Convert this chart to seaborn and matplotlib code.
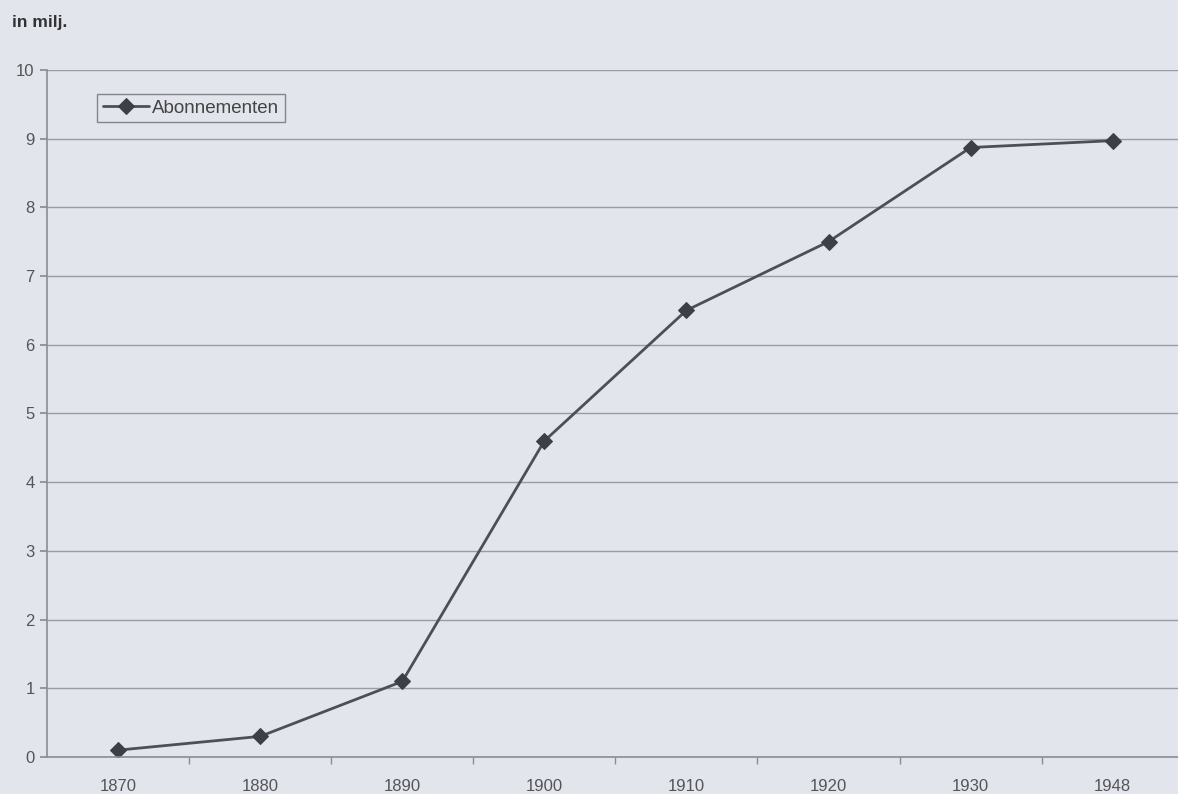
import pandas as pd
import matplotlib.pyplot as plt
import seaborn as sns
import numpy as np

# Data: telephone subscriptions (millions)
jaren = ['1870', '1880', '1890', '1900', '1910', '1920', '1930', '1948']
abonnementen = [0.1, 0.3, 1.1, 4.6, 6.5, 7.5, 8.87, 8.97]
y_ticks = [0, 1, 2, 3, 4, 5, 6, 7, 8, 9, 10]

bg = '#e3e5ed'
axis_grey = '#8a8d94'

sns.set_theme(style='white')
plt.rcParams['font.family'] = ['Liberation Sans', 'DejaVu Sans']

df = pd.DataFrame({'jaar': jaren, 'abonnementen': abonnementen})

fig = plt.figure(figsize=(11.78, 7.94), dpi=100, facecolor=bg)
ax = fig.add_axes([0.040, 0.0466, 0.960, 0.8654])
ax.set_facecolor(bg)

sns.lineplot(data=df, x='jaar', y='abonnementen', marker='D', markersize=8,
             color='#4c5056', linewidth=2.0, markerfacecolor='#3c3f45',
             markeredgecolor='#3c3f45', label='Abonnementen', ax=ax, sort=False)

ax.set_xlim(-0.5, 7.46)
ax.set_ylim(0, 10)
ax.set_yticks(y_ticks)
ax.yaxis.grid(True, color='#9a9ca3', linewidth=1.0)
ax.set_axisbelow(True)

# category ticks between labels (Excel style)
ax.set_xticks(range(len(jaren)))
ax.set_xticklabels(jaren)
ax.set_xticks(np.arange(0.5, len(jaren) - 0.5, 1), minor=True)
ax.tick_params(axis='x', which='major', length=0, pad=16, labelsize=12, labelcolor='#555')
ax.tick_params(axis='x', which='minor', length=5, direction='out', color=axis_grey, bottom=True)
ax.tick_params(axis='y', length=5, direction='out', color=axis_grey, left=True,
               labelsize=12, labelcolor='#555', pad=4)

for side in ['top', 'right']:
    ax.spines[side].set_visible(False)
for side in ['left', 'bottom']:
    ax.spines[side].set_color(axis_grey)
    ax.spines[side].set_linewidth(1.2)

ax.set_xlabel('')
ax.set_ylabel('')

leg = ax.legend(loc='upper left', bbox_to_anchor=(0.044, 0.965), borderaxespad=0,
                frameon=True, fancybox=False, fontsize=13.5, handlelength=2.5,
                handletextpad=0.15, borderpad=0.3, facecolor=bg)
leg.get_frame().set_edgecolor('#6a6d74')
leg.get_frame().set_linewidth(1.0)
for t in leg.get_texts():
    t.set_color('#444')

fig.text(0.010, 0.972, 'in milj.', fontsize=12.5, fontweight='bold', color='#333',
         ha='left', va='center')

fig.savefig('out.png', dpi=100, facecolor=bg)
